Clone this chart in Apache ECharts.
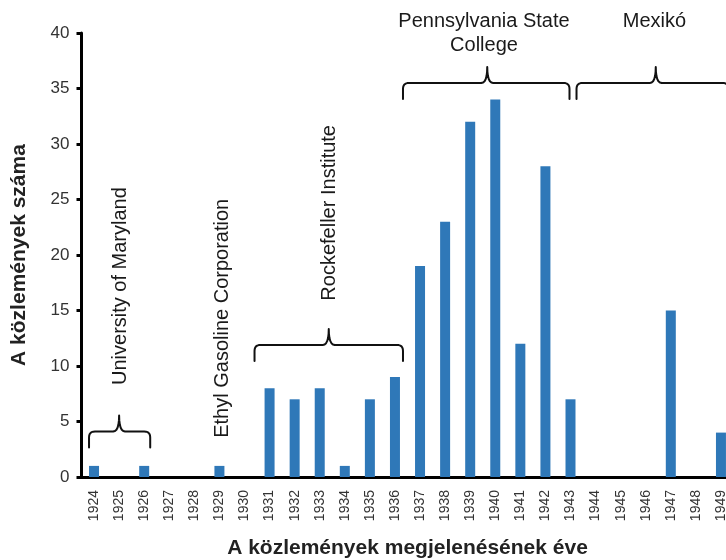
<!DOCTYPE html>
<html>
<head>
<meta charset="utf-8">
<script src="https://cdn.jsdelivr.net/npm/echarts@6/dist/echarts.min.js"></script>
<style>html,body{margin:0;padding:0;background:#fff}#c{width:726px;height:560px}</style>
</head>
<body>
<div id="c"></div>
<script>
const years = ['1924','1925','1926','1927','1928','1929','1930','1931','1932','1933','1934','1935','1936','1937','1938','1939','1940','1941','1942','1943','1944','1945','1946','1947','1948','1949'];
const counts = [1,0,1,0,0,1,0,8,7,8,1,7,9,19,23,32,34,12,28,7,0,0,0,15,0,4];
const yTicks = [0,5,10,15,20,25,30,35,40];

// annotations: label text, text anchor [category index, value], vertical?
const annotLabels = ['University of Maryland','Ethyl Gasoline Corporation','Rockefeller Institute','Pennsylvania State\nCollege','Mexikó'];
const annotTextPos = [[1.04,17.2],[5.12,14.3],[9.4,23.8],[15.55,39.95],[22.35,41.0]];
const annotVertical = [true,true,true,false,false];
// braces: [left index, center index, right index, level value]
const braceSpans = [[-0.2,1.0,2.24,4.1],null,[6.4,9.36,12.32,11.9],[12.32,15.68,18.96,35.5],[19.24,22.4,25.3,35.5]];

const FONT = '"Liberation Sans", Arial, Helvetica, sans-serif';

function quad(p0, c, p1, n, out) {
  for (let i = 1; i <= n; i++) {
    const t = i / n, u = 1 - t;
    out.push([u*u*p0[0] + 2*u*t*c[0] + t*t*p1[0], u*u*p0[1] + 2*u*t*c[1] + t*t*p1[1]]);
  }
}
function bracePoints(x0, xc, x1, yH) {
  const r = 6, hook = 16, spike = 16;
  const pts = [[x0, yH + hook]];
  pts.push([x0, yH + r]);
  quad([x0, yH + r], [x0, yH], [x0 + r, yH], 6, pts);
  pts.push([xc - r, yH]);
  quad([xc - r, yH], [xc, yH], [xc, yH - spike], 6, pts);
  quad([xc, yH - spike], [xc, yH], [xc + r, yH], 6, pts);
  pts.push([x1 - r, yH]);
  quad([x1 - r, yH], [x1, yH], [x1, yH + r], 6, pts);
  pts.push([x1, yH + hook]);
  return pts;
}

const chart = echarts.init(document.getElementById('c'), null, {renderer: 'canvas'});
chart.setOption({
  animation: false,
  backgroundColor: '#fff',
  grid: {left: 81.5, top: 33, bottom: 83, width: 652, containLabel: false, outerBoundsMode: 'none'},
  xAxis: {
    type: 'category',
    data: years,
    name: 'A közlemények megjelenésének éve',
    nameLocation: 'middle',
    nameGap: 61,
    nameTextStyle: {fontFamily: FONT, fontSize: 21, fontWeight: 'bold', color: '#222'},
    axisLine: {lineStyle: {color: '#000', width: 3}},
    axisTick: {length: 6, lineStyle: {color: '#000', width: 3}},
    axisLabel: {rotate: 90, margin: 13, fontFamily: FONT, fontSize: 14, color: '#333', interval: 0}
  },
  yAxis: {
    type: 'value',
    min: 0, max: 40, interval: 5,
    name: 'A közlemények száma',
    nameLocation: 'middle',
    nameGap: 52,
    nameTextStyle: {fontFamily: FONT, fontSize: 21, fontWeight: 'bold', color: '#222'},
    axisLine: {show: true, lineStyle: {color: '#000', width: 3}},
    axisTick: {show: true, length: 5, lineStyle: {color: '#000', width: 3}},
    axisLabel: {margin: 12, fontFamily: FONT, fontSize: 17, color: '#333',
      formatter: v => yTicks.indexOf(v) >= 0 ? String(v) : ''},
    splitLine: {show: false}
  },
  series: [
    {
      type: 'bar',
      data: counts,
      barWidth: 10,
      itemStyle: {color: '#2f78b8'},
      z: 2
    },
    {
      type: 'custom',
      z: 5,
      clip: false,
      silent: true,
      data: annotLabels.map((_, i) => [0, 0]),
      renderItem: function (params, api) {
        const i = params.dataIndex;
        const c0 = api.coord([0, 0]);
        const bw = api.size([1, 0])[0];
        const xp = idx => c0[0] + idx * bw;
        const yp = v => api.coord([0, v])[1];
        const children = [];
        const b = braceSpans[i];
        if (b) {
          children.push({
            type: 'polyline',
            shape: {points: bracePoints(xp(b[0]), xp(b[1]), xp(b[2]), yp(b[3]))},
            style: {stroke: '#111', lineWidth: 2, fill: null, lineJoin: 'round', lineCap: 'round'}
          });
        }
        const tp = annotTextPos[i];
        children.push({
          type: 'text',
          x: xp(tp[0]),
          y: yp(tp[1]),
          rotation: annotVertical[i] ? Math.PI / 2 : 0,
          style: {
            text: annotLabels[i],
            fill: '#1a1a1a',
            font: '20px ' + FONT,
            align: 'center',
            verticalAlign: 'middle',
            lineHeight: 24
          }
        });
        return {type: 'group', children: children};
      }
    }
  ]
});
</script>
</body>
</html>
